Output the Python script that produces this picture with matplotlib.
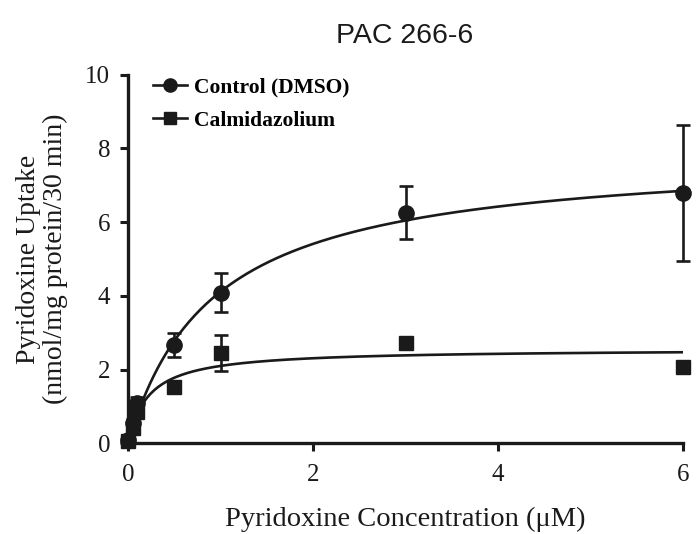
import numpy as np
import matplotlib
matplotlib.use('Agg')
import matplotlib.pyplot as plt
from matplotlib.lines import Line2D

# concentrations (uM)
conc = [0, 0.05, 0.1, 0.5, 1, 3, 6]

# Control (DMSO)
ctrl_mean = [0.1, 0.55, 1.1, 2.67, 4.08, 6.26, 6.80]
ctrl_err = [0.05, 0.1, 0.15, 0.33, 0.53, 0.71, 1.85]

# Calmidazolium
calm_mean = [0.05, 0.4, 0.85, 1.52, 2.45, 2.72, 2.07]
calm_err = [0.05, 0.1, 0.1, 0.12, 0.5, 0.1, 0.1]

# Michaelis-Menten fit parameters
ctrl_vmax, ctrl_km = 7.9, 0.92
calm_vmax, calm_km = 2.56, 0.22

xticks = [0, 2, 4, 6]
yticks = [0, 2, 4, 6, 8, 10]


def generate_plot():
    plt.rcParams['font.family'] = ['Liberation Serif', 'DejaVu Serif']

    fig = plt.figure(figsize=(7, 5.34), dpi=100)
    ax = fig.add_axes([0.183, 0.170, 0.793, 0.690])

    xs = np.linspace(0, 6, 300)
    ax.plot(xs, ctrl_vmax * xs / (ctrl_km + xs), color='#1a1a1a', lw=1.9)
    ax.plot(xs, calm_vmax * xs / (calm_km + xs), color='#1a1a1a', lw=1.9)

    ax.errorbar(conc, ctrl_mean, yerr=ctrl_err, fmt='o', color='#1a1a1a',
                markersize=11, capsize=5, elinewidth=1.9, capthick=1.9,
                clip_on=False, zorder=3)
    ax.errorbar(conc, calm_mean, yerr=calm_err, fmt='s', color='#1a1a1a',
                markersize=10, capsize=5, elinewidth=1.9, capthick=1.9,
                clip_on=False, zorder=3)

    ax.set_xlim(0, 6)
    ax.set_ylim(0, 10)
    ax.set_xticks(xticks)
    ax.set_yticks(yticks)
    ax.tick_params(direction='out', length=6, width=2.2, labelsize=18,
                   color='#1a1a1a', labelcolor='#1a1a1a', pad=7)
    ax.tick_params(axis='x', pad=9)
    for side in ['top', 'right']:
        ax.spines[side].set_visible(False)
    for side in ['left', 'bottom']:
        ax.spines[side].set_linewidth(2.4)
        ax.spines[side].set_color('#1a1a1a')

    ax.set_xlabel('Pyridoxine Concentration (\u03bcM)', fontsize=20.5,
                  color='#1a1a1a', labelpad=15)
    ax.set_ylabel('Pyridoxine Uptake\n(nmol/mg protein/30 min)', fontsize=20,
                  color='#1a1a1a', labelpad=12, linespacing=1.1)

    fig.text(0.578, 0.932, 'PAC 266-6', fontsize=20.5, ha='center', va='center',
             family='Liberation Sans', color='#1a1a1a')

    handles = [
        Line2D([], [], color='#1a1a1a', lw=1.9, marker='o', markersize=9.5),
        Line2D([], [], color='#1a1a1a', lw=1.9, marker='s', markersize=9),
    ]
    ax.legend(handles, ['Control (DMSO)', 'Calmidazolium'], loc='upper left',
              bbox_to_anchor=(0.01, 1.045), frameon=False, handlelength=1.6,
              handletextpad=0.3, labelspacing=0.6,
              prop={'weight': 'bold', 'size': 15.5})

    fig.savefig('out.png', dpi=100, facecolor='white')
    plt.close(fig)


if __name__ == "__main__":
    generate_plot()
